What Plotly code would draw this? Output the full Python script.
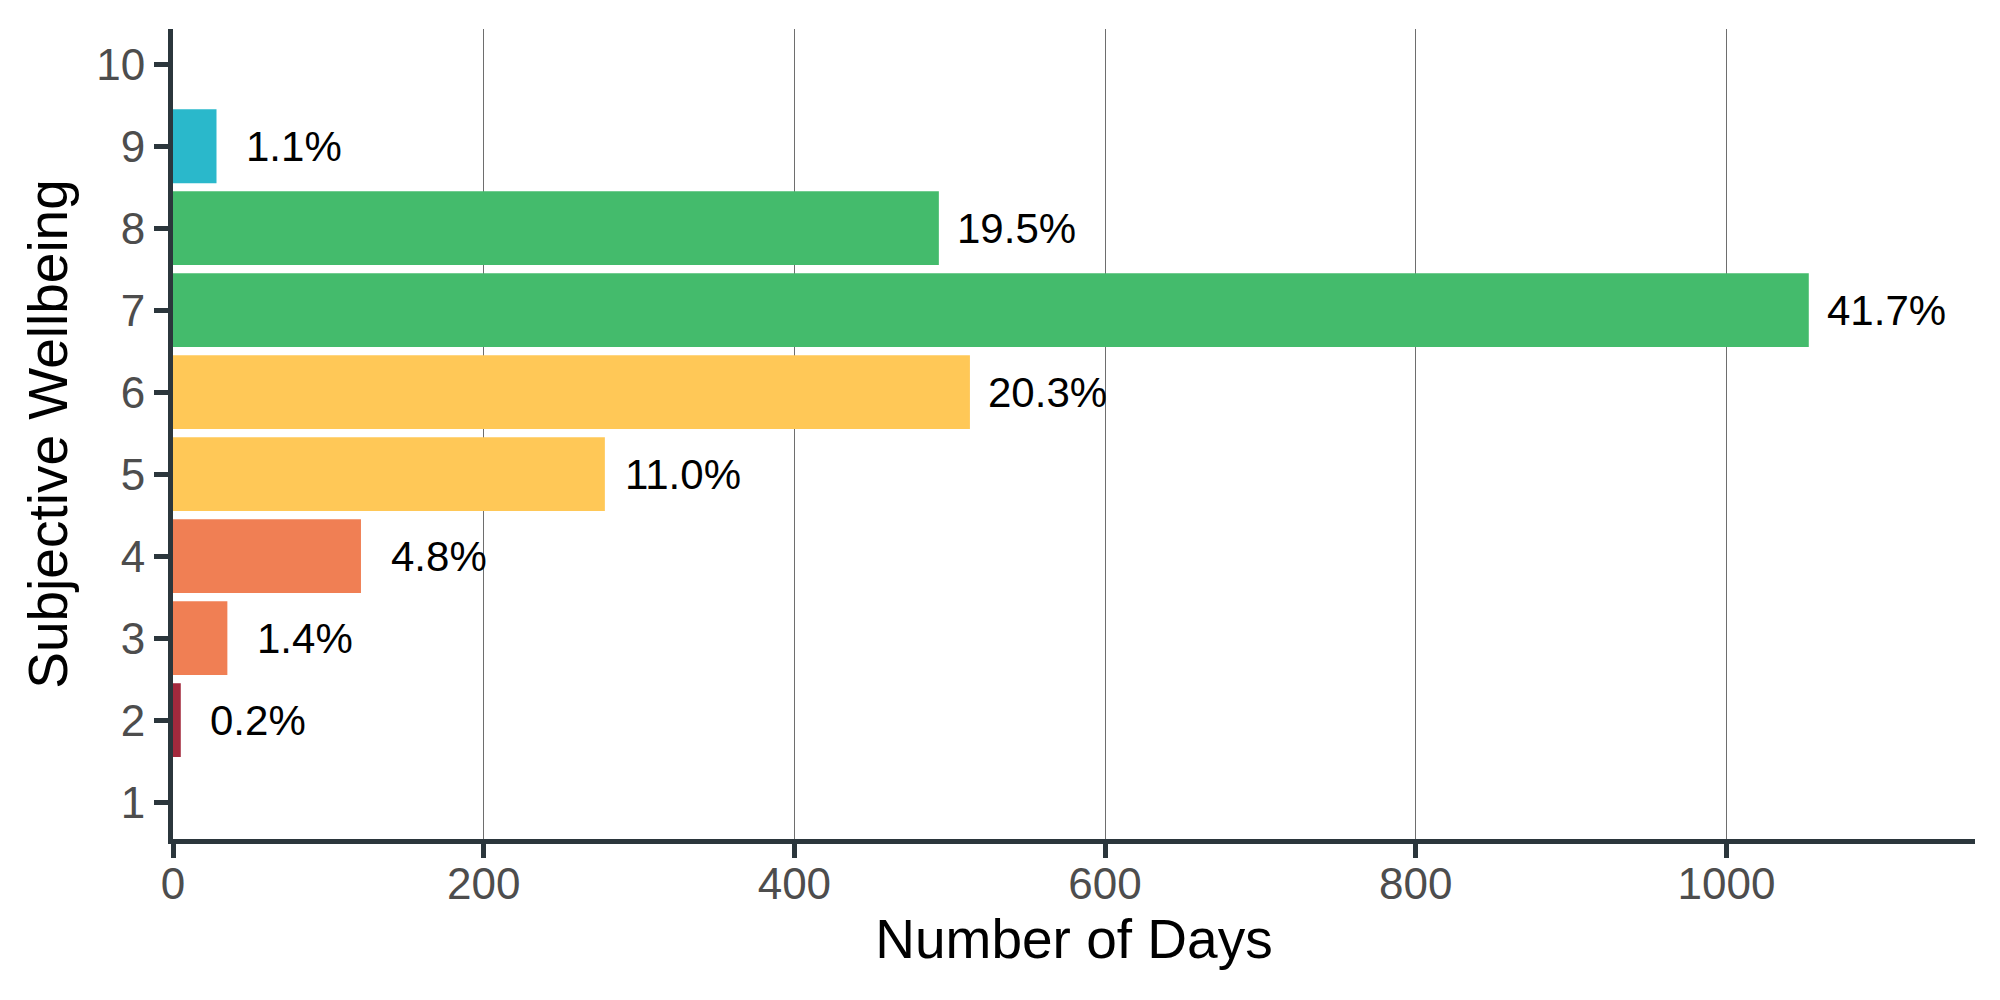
import plotly.graph_objects as go

levels = [1, 2, 3, 4, 5, 6, 7, 8, 9, 10]
days = [0, 5, 35, 121, 278, 513, 1053, 493, 28, 0]
pct_labels = ["", "0.2%", "1.4%", "4.8%", "11.0%", "20.3%", "41.7%", "19.5%", "1.1%", ""]
bar_colors = ["#A3293D", "#A3293D", "#F07F54", "#F07F54", "#FFC857", "#FFC857",
              "#44BB6C", "#44BB6C", "#2AB8CB", "#2AB8CB"]
x_ticks = [0, 200, 400, 600, 800, 1000]
label_offset = 50

axis_col = "#2B363C"
font_fam = "Liberation Sans, Arial, sans-serif"

fig = go.Figure()
fig.add_trace(go.Bar(
    x=days, y=levels, orientation="h", width=0.9,
    marker=dict(color=bar_colors, line=dict(width=0)),
    hoverinfo="x+y", showlegend=False,
))
for d, lv, lab in zip(days, levels, pct_labels):
    if d > 0:
        fig.add_annotation(
            x=d + label_offset, y=lv, text=lab, showarrow=False,
            xanchor="center", yanchor="middle", yshift=0,
            font=dict(family=font_fam, size=42, color="#000000"),
        )

fig.update_layout(
    width=2000, height=1000,
    paper_bgcolor="white", plot_bgcolor="white",
    margin=dict(l=165, r=33, t=21, b=169),
    font=dict(family=font_fam),
    bargap=0.1,
)
fig.update_xaxes(
    range=[0, 1160], tickvals=x_ticks, ticktext=[str(v) for v in x_ticks],
    showgrid=True, gridcolor="#6E6E6E", gridwidth=1.2,
    showline=True, linecolor=axis_col, linewidth=5,
    ticks="outside", ticklen=14, tickwidth=5, tickcolor=axis_col,
    tickfont=dict(size=44, color="#4D4D4D"), ticklabelstandoff=-12,
    zeroline=False, automargin=False,
    title=dict(text="Number of Days", font=dict(size=55, color="#000000"), standoff=12),
)
fig.update_yaxes(
    range=[0.55, 10.43], tickvals=levels, ticktext=[str(v) for v in levels],
    showgrid=False,
    showline=True, linecolor=axis_col, linewidth=5,
    ticks="outside", ticklen=14, tickwidth=5, tickcolor=axis_col,
    tickfont=dict(size=44, color="#4D4D4D"),
    zeroline=False, automargin=False,
    title=dict(text="Subjective Wellbeing", font=dict(size=55, color="#000000"), standoff=12),
)

fig.write_html("out.html")
